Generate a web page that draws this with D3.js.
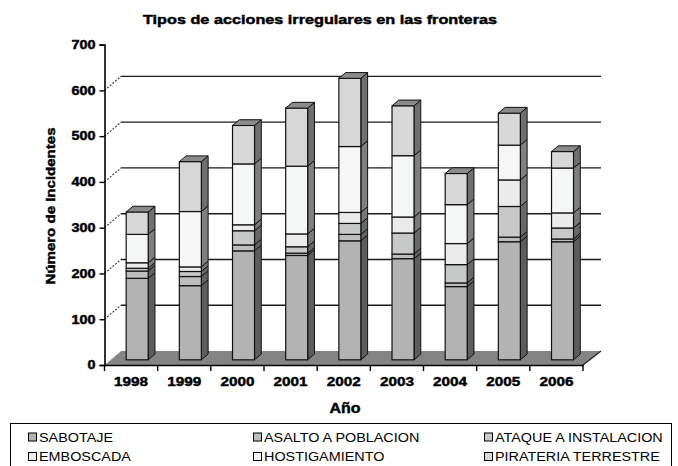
<!DOCTYPE html>
<html>
<head>
<meta charset="utf-8">
<script src="https://cdn.jsdelivr.net/npm/d3@7/dist/d3.min.js"></script>
<style>
  html, body { margin: 0; padding: 0; background: #fff; }
  svg { display: block; font-family: "Liberation Sans", Arial, sans-serif; }
</style>
</head>
<body>
<svg id="chart" width="678" height="466"></svg>
<script>
// ---- data ----
const years = ["1998","1999","2000","2001","2002","2003","2004","2005","2006"];
const seriesNames = ["SABOTAJE","ASALTO A POBLACION","ATAQUE A INSTALACION","EMBOSCADA","HOSTIGAMIENTO","PIRATERIA TERRESTRE"];
const sabotaje      = [178,162,238,228,260,221,160,258,258];
const asalto        = [16, 20, 13,  5, 14, 10,  8, 10,  6];
const ataque        = [6,  11, 31, 14, 24, 46, 40, 67, 24];
const emboscada     = [12, 10, 13, 28, 24, 35, 46, 58, 33];
const hostigamiento = [62,121,133,148,144,134, 85, 76, 98];
const pirateria     = [49,109, 84,127,149,109, 68, 70, 36];
const yTicks = [0,100,200,300,400,500,600,700];
const seriesColors = ["#b3b3b3","#bdbdbd","#c7c9c9","#ebebeb","#f5f6f6","#d7d7d7"];

const seriesValues = [sabotaje, asalto, ataque, emboscada, hostigamiento, pirateria];
const table = years.map((yr, i) => {
  const row = { year: yr };
  seriesNames.forEach((n, k) => row[n] = seriesValues[k][i]);
  return row;
});
const stacked = d3.stack().keys(seriesNames)(table);

// ---- layout ----
const svg = d3.select("#chart");
const DX = 16.5, DY = 14;           // depth offset of the 3D box
const y = d3.scaleLinear().domain([0, 700]).range([365, 44.6]);
const x = d3.scaleBand().domain(years).range([104.5, 583]).padding(0);
const barW = 22, d0 = 0.37, d1 = 0.78;
const P = (px, v, d) => [px + d * DX, y(v) - d * DY];
const color = d3.scaleOrdinal().domain(seriesNames).range(seriesColors);

// back wall gridlines
const gridVals = yTicks.filter(v => v > 0 && v < 700);
svg.append("g").selectAll("line").data(gridVals).join("line")
  .attr("x1", P(104.5, 0, 1)[0]).attr("x2", P(583, 0, 1)[0] + 1.5)
  .attr("y1", d => P(0, d, 1)[1]).attr("y2", d => P(0, d, 1)[1])
  .attr("stroke", "#1a1a1a").attr("stroke-width", 1.4);

// side wall diagonals (dashed)
svg.append("g").selectAll("line").data(gridVals).join("line")
  .attr("x1", P(104.5, 0, 0)[0]).attr("x2", P(104.5, 0, 1)[0])
  .attr("y1", d => P(0, d, 0)[1]).attr("y2", d => P(0, d, 1)[1])
  .attr("stroke", "#333").attr("stroke-width", 1.1).attr("stroke-dasharray", "2,1.5");

// floor
svg.append("path")
  .attr("d", "M" + [P(104.5,0,0), P(104.5,0,1), [P(583,0,1)[0]+1.5, P(583,0,1)[1]], P(583,0,0)].join("L") + "Z")
  .attr("fill", "#848484").attr("stroke", "none");
svg.append("line")
  .attr("x1", P(583,0,0)[0]).attr("y1", P(583,0,0)[1])
  .attr("x2", P(583,0,1)[0]+1.5).attr("y2", P(583,0,1)[1])
  .attr("stroke", "#222").attr("stroke-width", 1.2);
svg.append("line")
  .attr("x1", P(104.5,0,0)[0]).attr("y1", P(104.5,0,0)[1])
  .attr("x2", P(104.5,0,1)[0]).attr("y2", P(104.5,0,1)[1])
  .attr("stroke", "#eee").attr("stroke-width", 1).attr("stroke-dasharray", "2,1.5");

// bars
const poly = pts => "M" + pts.map(p => p.join(",")).join("L") + "Z";
const barsG = svg.append("g");
years.forEach((yr, i) => {
  const cx = x(yr) + x.bandwidth() / 2;
  const xa = cx - barW / 2, xb = cx + barW / 2;
  const g = barsG.append("g");
  stacked.forEach((s, k) => {
    const v0 = s[i][0], v1 = s[i][1];
    const fill = color(s.key);
    g.append("path")
      .attr("d", poly([P(xb,v0,d0), P(xb,v0,d1), P(xb,v1,d1), P(xb,v1,d0)]))
      .attr("fill", d3.color(fill).darker(1.85))
      .attr("stroke", "#111").attr("stroke-width", 1).attr("stroke-linejoin", "round");
    const a = P(xa, v1, d0), b = P(xb, v0, d0);
    g.append("rect")
      .attr("x", a[0]).attr("y", a[1])
      .attr("width", b[0] - a[0]).attr("height", b[1] - a[1])
      .attr("fill", fill).attr("stroke", "#111").attr("stroke-width", 1.2);
    if (k === stacked.length - 1) {
      g.append("path")
        .attr("d", poly([P(xa,v1,d0), P(xa,v1,d1), P(xb,v1,d1), P(xb,v1,d0)]))
        .attr("fill", d3.color(fill).darker(1.25))
        .attr("stroke", "#111").attr("stroke-width", 1).attr("stroke-linejoin", "round");
    }
  });
});

const heavy = sel => sel.attr("font-weight", "bold").attr("fill", "#000")
  .attr("stroke", "#000").attr("stroke-width", 0.45)
  .attr("font-family", "Liberation Sans, Arial, sans-serif");

// y axis
const yAxis = svg.append("g").attr("transform", "translate(104.5,0)")
  .call(d3.axisLeft(y).tickValues(yTicks).tickSize(5).tickPadding(4).tickFormat(d3.format("d")));
yAxis.select(".domain").attr("stroke", "#000").attr("stroke-width", 1.6);
yAxis.selectAll(".tick line").attr("stroke", "#000").attr("stroke-width", 1.4);
yAxis.selectAll(".tick text").attr("font-size", 12).call(heavy)
  .attr("textLength", d => String(d).length * 8).attr("lengthAdjust", "spacingAndGlyphs");

// x axis
const xAxis = svg.append("g").attr("transform", "translate(0,365)")
  .call(d3.axisBottom(x).tickSize(0).tickPadding(12));
xAxis.select(".domain").attr("stroke", "#000").attr("stroke-width", 1.6);
xAxis.selectAll(".tick text").attr("font-size", 13).call(heavy)
  .attr("textLength", 34).attr("lengthAdjust", "spacingAndGlyphs");
const bounds = years.map(yr => x(yr)).concat([x.range()[1]]);
svg.append("g").selectAll("line").data(bounds).join("line")
  .attr("x1", d => d).attr("x2", d => d).attr("y1", 365).attr("y2", 371)
  .attr("stroke", "#000").attr("stroke-width", 1.4);

// titles
svg.append("text").attr("x", 320).attr("y", 24).attr("text-anchor", "middle")
  .attr("font-size", 13).call(heavy)
  .attr("textLength", 354).attr("lengthAdjust", "spacingAndGlyphs")
  .text("Tipos de acciones irregulares en las fronteras");
svg.append("text").attr("transform", "translate(55,206) rotate(-90)").attr("text-anchor", "middle")
  .attr("font-size", 13).call(heavy)
  .attr("textLength", 157).attr("lengthAdjust", "spacingAndGlyphs")
  .text("Número de Incidentes");
svg.append("text").attr("x", 345).attr("y", 413).attr("text-anchor", "middle")
  .attr("font-size", 14).call(heavy)
  .attr("textLength", 31).attr("lengthAdjust", "spacingAndGlyphs")
  .text("Año");

// legend
svg.append("rect").attr("x", 10.5).attr("y", 423.5).attr("width", 661).attr("height", 80)
  .attr("fill", "none").attr("stroke", "#000").attr("stroke-width", 1);
const legCols = [28, 253, 484];
const legRows = [441.5, 461];
const leg = svg.append("g").selectAll("g").data(seriesNames).join("g")
  .attr("transform", (d, i) => `translate(${legCols[i % 3]},${legRows[Math.floor(i / 3)]})`);
leg.append("rect").attr("x", 0.5).attr("y", -8.5).attr("width", 8).attr("height", 8)
  .attr("fill", d => color(d)).attr("stroke", "#000").attr("stroke-width", 1);
leg.append("text").attr("x", 11).attr("y", 0).attr("font-size", 12.5)
  .attr("fill", "#000").text(d => d)
  .each(function () {
    const w = this.getComputedTextLength();
    d3.select(this).attr("textLength", w * 1.15).attr("lengthAdjust", "spacingAndGlyphs");
  });
</script>
</body>
</html>
